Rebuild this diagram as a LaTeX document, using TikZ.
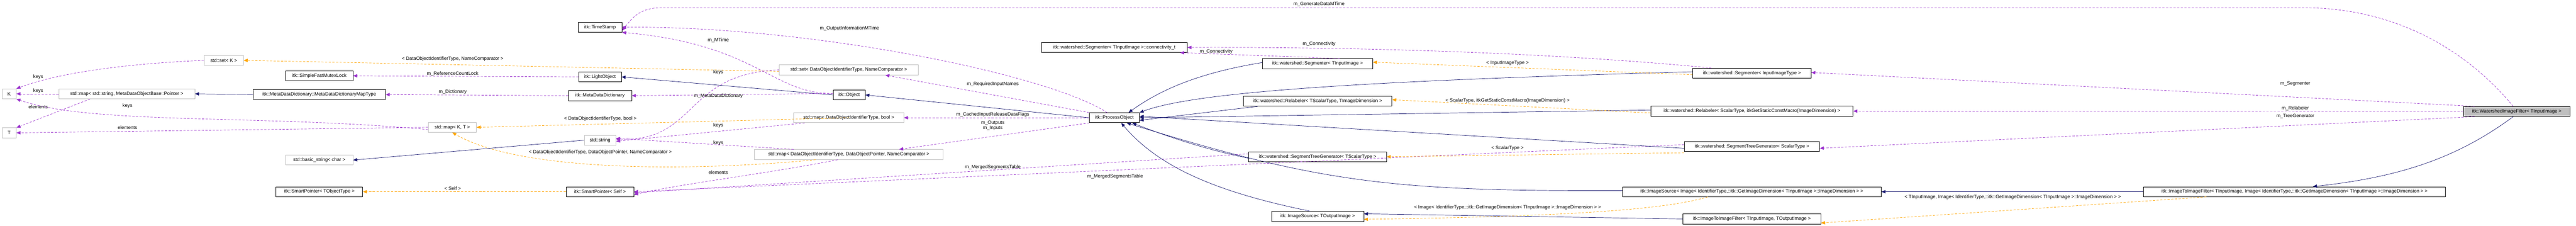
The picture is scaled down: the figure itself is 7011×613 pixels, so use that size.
\documentclass[tikz,border=0pt]{standalone}
\usepackage{fontspec}
\setmainfont{Liberation Sans}
\usetikzlibrary{arrows.meta}
\definecolor{navy}{HTML}{191970}
\definecolor{purp}{HTML}{9A32CD}
\definecolor{orng}{HTML}{FFA500}
\definecolor{gbord}{HTML}{BFBFBF}
\begin{document}
\begin{tikzpicture}[x=1pt,y=-1pt,
 font=\fontsize{13}{15}\selectfont,
 box/.style={draw=black,line width=1.2pt,fill=white,minimum height=27pt,inner sep=1pt},
 gbox/.style={box,draw=gbord},
 inh/.style={draw=navy,line width=1pt,-{Triangle[length=11pt,width=9pt]}},
 use/.style={draw=purp,line width=1pt,dashed,dash pattern=on 6pt off 4pt,-{Triangle[length=11pt,width=9pt]}},
 tpl/.style={draw=orng,line width=1pt,dash pattern=on 6pt off 4pt,-{Triangle[length=11pt,width=9pt]}},
 lab/.style={inner sep=0pt,font=\fontsize{13}{15}\selectfont}]
\useasboundingbox (0,0) rectangle (7011,613);
% nodes
\node[gbox,minimum width=38pt] (K) at (25,255) {K};
\node[gbox,minimum width=38pt] (T) at (25,361) {T};
\node[gbox,minimum width=107pt] (setK) at (609,164) {std::set< K >};
\node[gbox,minimum width=370pt] (mapStr) at (345,255) {std::map< std::string, MetaDataObjectBase::Pointer >};
\node[box,minimum width=183pt] (sfml) at (869,206) {itk::SimpleFastMutexLock};
\node[box,minimum width=360pt] (mddmt) at (869,257) {itk::MetaDataDictionary::MetaDataDictionaryMapType};
\node[gbox,minimum width=183pt] (bstr) at (869,435) {std::basic\_string< char >};
\node[box,minimum width=236pt] (spTO) at (869,521) {itk::SmartPointer< TObjectType >};
\node[gbox,minimum width=131pt] (mapKT) at (1231,346) {std::map< K, T >};
\node[box,minimum width=119pt] (ts) at (1633,74) {itk::TimeStamp};
\node[box,minimum width=116pt] (lo) at (1633,209) {itk::LightObject};
\node[box,minimum width=172pt] (mdd) at (1633,260) {itk::MetaDataDictionary};
\node[gbox,minimum width=86pt] (str) at (1633,381) {std::string};
\node[box,minimum width=184pt] (spS) at (1633,521) {itk::SmartPointer< Self >};
\node[box,minimum width=87pt] (obj) at (2311,258) {itk::Object};
\node[gbox,minimum width=378pt] (setD) at (2310,190) {std::set< DataObjectIdentifierType, NameComparator >};
\node[gbox,minimum width=299pt] (mapB) at (2310,320) {std::map< DataObjectIdentifierType, bool >};
\node[gbox,minimum width=513pt] (mapD) at (2310,420) {std::map< DataObjectIdentifierType, DataObjectPointer, NameComparator >};
\node[box,minimum width=396pt] (conn) at (3033,129) {itk::watershed::Segmenter< TInputImage >::connectivity\_t};
\node[box,minimum width=136pt] (po) at (3033,320) {itk::ProcessObject};
\node[box,minimum width=300pt] (segT) at (3586,173) {itk::watershed::Segmenter< TInputImage >};
\node[box,minimum width=405pt] (relT) at (3586,275) {itk::watershed::Relabeler< TScalarType, TImageDimension >};
\node[box,minimum width=375pt] (stgT) at (3586,426) {itk::watershed::SegmentTreeGenerator< TScalarType >};
\node[box,minimum width=251pt] (isT) at (3586,588) {itk::ImageSource< TOutputImage >};
\node[box,minimum width=322pt] (segI) at (4768,199) {itk::watershed::Segmenter< InputImageType >};
\node[box,minimum width=551pt] (relI) at (4768,302) {itk::watershed::Relabeler< ScalarType, itkGetStaticConstMacro(ImageDimension) >};
\node[box,minimum width=368pt] (stgI) at (4768,398) {itk::watershed::SegmentTreeGenerator< ScalarType >};
\node[box,minimum width=704pt] (isI) at (4768,521) {itk::ImageSource< Image< IdentifierType,::itk::GetImageDimension< TInputImage >::ImageDimension > >};
\node[box,minimum width=375pt] (itiT) at (4768,595) {itk::ImageToImageFilter< TInputImage, TOutputImage >};
\node[box,minimum width=822pt] (itiI) at (6245,521) {itk::ImageToImageFilter< TInputImage, Image< IdentifierType,::itk::GetImageDimension< TInputImage >::ImageDimension > >};
\node[box,fill=gbord,minimum width=290pt] (ws) at (6850,303) {itk::WatershedImageFilter< TInputImage >};
% edges: std containers
\draw[use] (setK.west) .. controls (300,175) and (140,205) .. (K.north east);
\node[lab] at (104,209) {keys};
\draw[use] (mapStr.west) -- (K.east);
\node[lab] at (104,247) {keys};
\draw[use] ([xshift=-100pt]mapStr.south) -- (T.north east);
\node[lab] at (104,291) {elements};
\draw[use] ([yshift=-6pt]mapKT.west) .. controls (700,310) and (250,340) .. (K.south east);
\node[lab] at (347,288) {keys};
\draw[use] (mapKT.west) -- (T.east);
\node[lab] at (347,347) {elements};
\draw[inh] (mddmt.west) -- (mapStr.east);
\draw[use] (lo.west) -- (sfml.east);
\node[lab] at (1232,200) {m\_ReferenceCountLock};
\draw[use] (mdd.west) -- (mddmt.east);
\node[lab] at (1232,250) {m\_Dictionary};
\draw[tpl] ([yshift=-4pt]setD.west) -- (setK.east);
\node[lab] at (1232,160) {< DataObjectIdentifierType, NameComparator >};
\draw[tpl] ([xshift=-149pt]mapB.north east |- mapB.west) -- (mapKT.east);
\node[lab] at (1634,323) {< DataObjectIdentifierType, bool >};
\draw[tpl] ([xshift=-90pt]mapD.south) .. controls (1900,465) and (1420,470) .. (mapKT.south);
\node[lab] at (1634,414) {< DataObjectIdentifierType, DataObjectPointer, NameComparator >};
\draw[tpl] (spS.west) -- (spTO.east);
\node[lab] at (1232,512) {< Self >};
\draw[inh] (str.west) -- (bstr.east);
\draw[inh] (obj.west) -- (lo.east);
\draw[use] ([yshift=4pt]obj.west) .. controls (2100,255) and (2060,120) .. (ts.south east);
\node[lab] at (1955,109) {m\_MTime};
\draw[use] ([yshift=4pt]obj.west) -- (mdd.east);
\node[lab] at (1955,261) {m\_MetaDataDictionary};
\draw[inh] (po.west) -- (obj.east);
\draw[use] ([xshift=-20pt]po.north) .. controls (2850,200) and (2200,70) .. (ts.east);
\node[lab] at (2312,77) {m\_OutputInformationMTime};
\draw[use] (po.north west) -- ([xshift=-90pt]setD.south east);
\node[lab] at (2702,228) {m\_RequiredInputNames};
\draw[use] (po.west) -- (mapB.east);
\node[lab] at (2702,312) {m\_CachedInputReleaseDataFlags};
\draw[use] (po.south west) -- ([xshift=-120pt]mapD.north east);
\node[lab,align=center] at (2702,341) {m\_Outputs\\m\_Inputs};
\draw[use] (setD.west) .. controls (1860,200) and (1900,385) .. ([yshift=3pt]str.east);
\node[lab] at (1955,196) {keys};
\draw[use] ([xshift=-120pt]mapB.south) -- ([yshift=-3pt]str.east);
\node[lab] at (1955,341) {keys};
\draw[use] ([xshift=-150pt]mapD.north) -- ([yshift=5pt]str.east);
\node[lab] at (1955,388) {keys};
\draw[use] ([xshift=-30pt]mapD.south) .. controls (2100,470) and (1850,500) .. ([yshift=-8pt]spS.east);
\node[lab] at (1955,468) {elements};
\draw[use] ([yshift=8pt]stgT.west) -- ([yshift=-3pt]spS.east);
\node[lab] at (2702,455) {m\_MergedSegmentsTable};
\draw[use] ([yshift=5pt]stgI.west) -- (spS.east);
\node[lab] at (3035,479) {m\_MergedSegmentsTable};
\draw[use] ([xshift=-90pt]segT.north east |- segT.north) -- ([xshift=-20pt]conn.south east);
\node[lab] at (3310,140) {m\_Connectivity};
\draw[use] ([xshift=-110pt]segI.north) .. controls (4300,150) and (3800,127) .. (conn.east);
\node[lab] at (3590,120) {m\_Connectivity};
% inheritance into ProcessObject
\draw[inh] ([yshift=3pt]segT.west) .. controls (3250,200) and (3150,250) .. ([xshift=-30pt]po.north east);
\draw[inh] ([xshift=40pt]relT.south west) -- ([yshift=-7pt]po.east);
\draw[inh] ([yshift=4pt]segI.west) .. controls (3700,220) and (3250,250) .. (po.north east);
\draw[inh] ([yshift=3pt]relI.west) -- (po.east);
\draw[inh] ([yshift=-4pt]stgT.west) .. controls (3300,410) and (3200,380) .. ([xshift=-20pt]po.south east);
\draw[inh] ([yshift=-5pt]stgI.west) -- ([yshift=4pt]po.east);
\draw[inh] ([yshift=3pt]isI.west) .. controls (3800,520) and (3600,500) .. ([xshift=-35pt]po.south east);
\draw[inh] ([xshift=-20pt]isT.north) .. controls (3300,520) and (3150,450) .. ([xshift=-50pt]po.south east);
% templates
\draw[tpl] ([yshift=-4pt]segI.west) -- ([yshift=4pt]segT.east);
\node[lab] at (4103,171) {< InputImageType >};
\draw[tpl] ([yshift=-5pt]relI.west) -- ([yshift=4pt]relT.east);
\node[lab] at (4103,273) {< ScalarType, itkGetStaticConstMacro(ImageDimension) >};
\draw[tpl] ([yshift=-3pt]stgI.south west) -- (stgT.east);
\node[lab] at (4103,402) {< ScalarType >};
\draw[tpl] ([xshift=-120pt]isI.south) .. controls (4500,580) and (4100,590) .. ([yshift=-8pt]isT.east);
\node[lab] at (4103,564) {< Image< IdentifierType,::itk::GetImageDimension< TInputImage >::ImageDimension > >};
\draw[inh] (itiT.west) -- ([yshift=7pt]isT.east);
\draw[inh] (itiI.west) -- (isI.east);
\draw[tpl] ([xshift=-240pt]itiI.south) -- ([yshift=-11pt]itiT.east);
\node[lab] at (5478,536) {< TInputImage, Image< IdentifierType,::itk::GetImageDimension< TInputImage >::ImageDimension > >};
\draw[inh] ([xshift=-10pt]ws.south) .. controls (6700,420) and (6550,480) .. ([xshift=50pt]itiI.north);
% watershed members
\draw[use] ([xshift=-115pt]ws.north) -- ([yshift=2pt]segI.east);
\node[lab] at (6247,228) {m\_Segmenter};
\draw[use] (ws.west) -- (relI.east);
\node[lab] at (6247,295) {m\_Relabeler};
\draw[use] ([xshift=-115pt]ws.south) -- ([yshift=-5pt]stgI.east);
\node[lab] at (6247,316) {m\_TreeGenerator};
\draw[use] ([xshift=-10pt]ws.north) .. controls (6700,120) and (6500,21) .. (6270,21) -- (1800,21) .. controls (1740,21) and (1720,50) .. ([yshift=-9pt]ts.east);
\node[lab] at (3590,12) {m\_GenerateDataMTime};
\end{tikzpicture}
\end{document}
